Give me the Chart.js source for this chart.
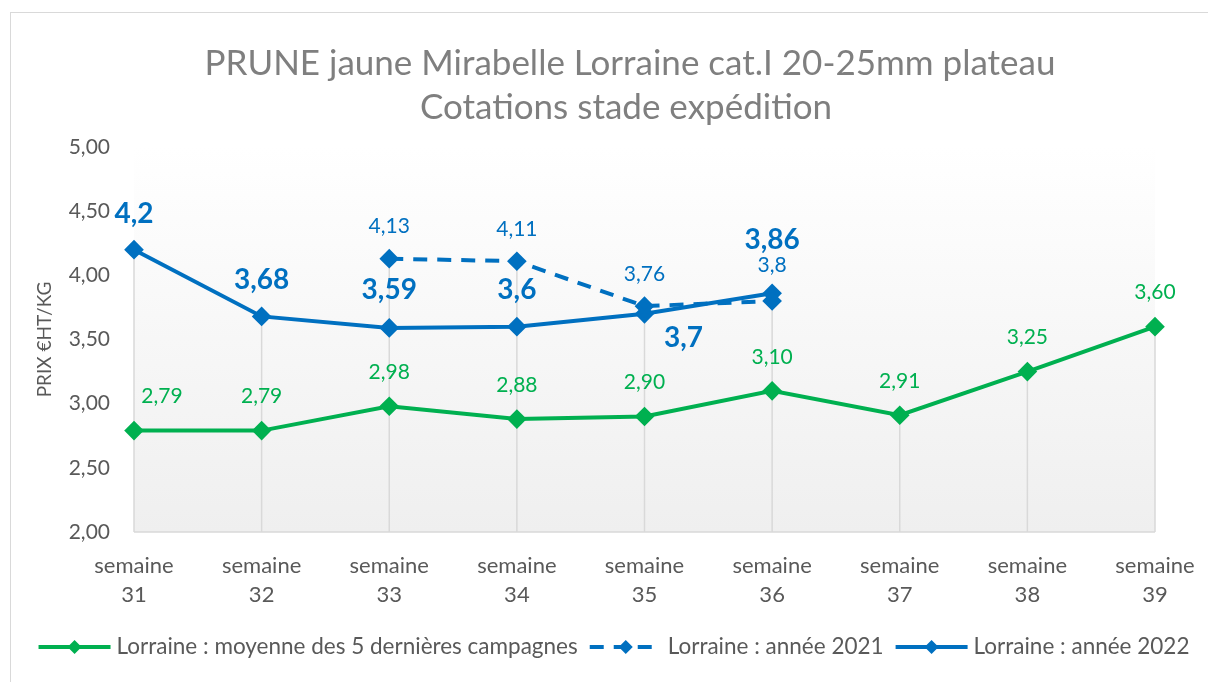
<!DOCTYPE html>
<html>
<head>
<meta charset="utf-8">
<script src="https://cdn.jsdelivr.net/npm/chart.js@4.4.0/dist/chart.umd.min.js"></script>
<style>
    html, body { margin: 0; padding: 0; background: #fff; }
    #wrap { position: absolute; left: 0; top: 0; width: 1208px; height: 682px; }
</style>
</head>
<body>
<div id="wrap"><canvas id="prixChart" width="1208" height="682"></canvas></div>
<script>
// Data
const weeks = [
    ['semaine', '31'], ['semaine', '32'], ['semaine', '33'], ['semaine', '34'], ['semaine', '35'],
    ['semaine', '36'], ['semaine', '37'], ['semaine', '38'], ['semaine', '39']
];
const moyenne5 = [2.79, 2.79, 2.98, 2.88, 2.90, 3.10, 2.91, 3.25, 3.60];
const annee2021 = [null, null, 4.13, 4.11, 3.76, 3.8, null, null, null];
const annee2022 = [4.2, 3.68, 3.59, 3.6, 3.7, 3.86, null, null, null];
const yTicks = [2, 2.5, 3, 3.5, 4, 4.5, 5];
const titleLines = ['PRUNE jaune Mirabelle Lorraine cat.I 20-25mm plateau', 'Cotations stade expédition'];

const GREEN = '#00b050';
const BLUE = '#0070c0';
const FONT = 'Lato, "Open Sans", sans-serif';

// label offsets (dx, dy) per point, per dataset
const labelStyles = [
    { font: '21px ' + FONT, color: GREEN, fmt: v => v.toFixed(2).replace('.', ','),
      offsets: [[28, -34], [0, -34], [0, -34], [0, -34], [0, -34], [0, -34], [0, -34], [0, -34], [0, -34]] },
    { font: '21px ' + FONT, color: BLUE, fmt: v => String(v).replace('.', ','),
      offsets: [null, null, [0, -32], [0, -32], [0, -32], [0, -36]] },
    { font: 'bold 28px ' + FONT, color: BLUE, fmt: v => String(v).replace('.', ','),
      offsets: [[0, -36], [0, -36], [0, -38], [0, -37], [39, 24], [0, -53]] }
];

// Plot background, frame, title and drop lines
const backdropPlugin = {
    id: 'backdrop',
    beforeDraw(chart) {
        const { ctx, chartArea: a } = chart;
        ctx.save();
        ctx.fillStyle = '#fff';
        ctx.fillRect(0, 0, chart.width, chart.height);
        ctx.strokeStyle = '#d9d9d9';
        ctx.lineWidth = 1;
        ctx.strokeRect(10.5, 12.5, 1240, 720);
        const g = ctx.createLinearGradient(0, a.top, 0, a.bottom);
        g.addColorStop(0, '#ffffff');
        g.addColorStop(1, '#efefef');
        ctx.fillStyle = g;
        ctx.fillRect(a.left, a.top, a.right - a.left, a.bottom - a.top);
        // title
        ctx.fillStyle = '#7f7f7f';
        ctx.font = '35px ' + FONT;
        ctx.textAlign = 'center';
        ctx.textBaseline = 'middle';
        ctx.fillText(titleLines[0], 630, 64);
        ctx.fillText(titleLines[1], 626, 108);
        ctx.restore();
    },
    beforeDatasetsDraw(chart) {
        const { ctx, chartArea: a, scales } = chart;
        ctx.save();
        ctx.strokeStyle = '#d9d9d9';
        ctx.lineWidth = 1.5;
        weeks.forEach((w, i) => {
            const vals = chart.data.datasets.map(d => d.data[i]).filter(v => v != null);
            const top = scales.y.getPixelForValue(Math.max(...vals));
            const x = scales.x.getPixelForValue(i);
            ctx.beginPath();
            ctx.moveTo(x, top);
            ctx.lineTo(x, a.bottom);
            ctx.stroke();
        });
        ctx.beginPath();
        ctx.moveTo(a.left, a.bottom);
        ctx.lineTo(a.right, a.bottom);
        ctx.stroke();
        ctx.restore();
    }
};

// Value labels
const valueLabelPlugin = {
    id: 'valueLabels',
    afterDatasetsDraw(chart) {
        const ctx = chart.ctx;
        ctx.save();
        ctx.textAlign = 'center';
        ctx.textBaseline = 'middle';
        chart.data.datasets.forEach((ds, di) => {
            const st = labelStyles[di];
            chart.getDatasetMeta(di).data.forEach((pt, i) => {
                const v = ds.data[i];
                if (v == null) return;
                const off = st.offsets[i] || [0, -34];
                ctx.font = st.font;
                ctx.fillStyle = st.color;
                ctx.fillText(st.fmt(v), pt.x + off[0], pt.y + off[1]);
            });
        });
        ctx.restore();
    }
};

// Legend with line + diamond markers
const legendPlugin = {
    id: 'lineLegend',
    afterDraw(chart) {
        const ctx = chart.ctx;
        const y = 647;
        const lineLen = 72, gap = 6, itemGap = 12;
        ctx.save();
        ctx.font = '22.5px ' + FONT;
        const items = chart.data.datasets.map(ds => ({ ds, w: ctx.measureText(ds.label).width }));
        const total = items.reduce((s, it) => s + lineLen + gap + it.w, 0) + itemGap * (items.length - 1);
        let x = 614 - total / 2;
        items.forEach(it => {
            ctx.strokeStyle = it.ds.borderColor;
            ctx.lineWidth = 4;
            ctx.setLineDash(it.ds.borderDash || []);
            ctx.beginPath();
            ctx.moveTo(x, y);
            ctx.lineTo(x + lineLen, y);
            ctx.stroke();
            ctx.setLineDash([]);
            ctx.fillStyle = it.ds.borderColor;
            const cx = x + lineLen / 2, r = 7;
            ctx.beginPath();
            ctx.moveTo(cx, y - r); ctx.lineTo(cx + r, y); ctx.lineTo(cx, y + r); ctx.lineTo(cx - r, y);
            ctx.closePath();
            ctx.fill();
            ctx.fillStyle = '#595959';
            ctx.textAlign = 'left';
            ctx.textBaseline = 'middle';
            ctx.fillText(it.ds.label, x + lineLen + gap, y);
            x += lineLen + gap + it.w + itemGap;
        });
        ctx.restore();
    }
};

const lineSet = (label, data, color, dash) => ({
    label,
    data,
    borderColor: color,
    backgroundColor: color,
    borderWidth: 4,
    borderDash: dash,
    pointStyle: 'rectRot',
    pointRadius: 7,
    pointHoverRadius: 7,
    tension: 0,
    spanGaps: false
});

const initPrixChart = () => {
    const ctx = document.getElementById('prixChart').getContext('2d');
    return new Chart(ctx, {
        type: 'line',
        data: {
            labels: weeks,
            datasets: [
                lineSet('Lorraine : moyenne des 5 dernières campagnes', moyenne5, GREEN, []),
                lineSet('Lorraine : année 2021', annee2021, BLUE, [14, 10]),
                lineSet('Lorraine : année 2022', annee2022, BLUE, [])
            ]
        },
        options: {
            responsive: false,
            animation: false,
            layout: { padding: { left: 0, right: 53, top: 147, bottom: 75 } },
            plugins: {
                legend: { display: false },
                tooltip: { enabled: false },
                title: { display: false }
            },
            scales: {
                x: {
                    offset: false,
                    grid: { display: false },
                    border: { display: false },
                    ticks: {
                        color: '#595959',
                        font: { family: FONT, size: 22, lineHeight: 1.3 },
                        padding: 12,
                        maxRotation: 0,
                        autoSkip: false
                    },
                    afterFit: s => { s.height = 75; }
                },
                y: {
                    min: 2,
                    max: 5,
                    afterBuildTicks: s => { s.ticks = yTicks.map(v => ({ value: v })); },
                    grid: { display: false, drawTicks: false },
                    border: { display: false },
                    ticks: {
                        color: '#595959',
                        font: { family: FONT, size: 21 },
                        padding: 24,
                        callback: v => v.toFixed(2).replace('.', ',')
                    },
                    title: {
                        display: true,
                        text: 'PRIX €HT/KG',
                        color: '#595959',
                        font: { family: FONT, size: 19 },
                        padding: { top: 33, bottom: 0 }
                    },
                    afterFit: s => { s.width = 134; }
                }
            }
        },
        plugins: [backdropPlugin, valueLabelPlugin, legendPlugin]
    });
};

document.addEventListener('DOMContentLoaded', () => {
    initPrixChart();
});
</script>
</body>
</html>
